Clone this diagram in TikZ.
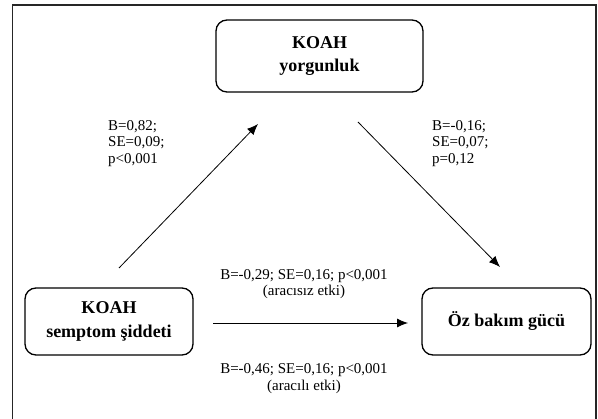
\documentclass[tikz,border=0pt]{standalone}
\usepackage{fontspec}
\setmainfont{Liberation Serif}
\usetikzlibrary{arrows.meta}
\begin{document}
\begin{tikzpicture}[x=1pt,y=-1pt,
  box/.style={draw=black,line width=1.3pt,rounded corners=11pt,inner sep=0pt,
    font=\fontsize{18}{23.5}\selectfont\bfseries,align=center},
  lbl/.style={inner sep=0pt,font=\fontsize{15}{16.5}\selectfont},
  arr/.style={line width=0.8pt,-{Latex[length=11pt,width=9pt]}}]
\useasboundingbox (0,0) rectangle (598,419);
\draw[line width=1.4pt,draw=black!85] (12.7,425) -- (12.7,5) -- (596,5) -- (596,425);
\node[box,minimum width=207pt,minimum height=72pt] (top) at (319.5,56) {KOAH\\yorgunluk};
\node[box,minimum width=168pt,minimum height=67pt] (left) at (109,321.5) {KOAH\\semptom şiddeti};
\node[box,minimum width=169pt,minimum height=67pt] (right) at (506.5,321.5) {Öz bakım gücü};
\coordinate (a1s) at (119,268);
\coordinate (a1e) at (258,124);
\coordinate (a2s) at (358,122);
\coordinate (a2e) at (500,267);
\coordinate (a3s) at (213,323);
\coordinate (a3e) at (408,323);
\draw[arr] (a1s) -- (a1e);
\draw[arr] (a2s) -- (a2e);
\draw[arr] (a3s) -- (a3e);
\node[lbl,align=left,anchor=north west] (l1) at (108,120) {B=0,82;\\SE=0,09;\\p<0,001};
\node[lbl,align=left,anchor=north west] (l2) at (432,120) {B=-0,16;\\SE=0,07;\\p=0,12};
\node[lbl,align=center] (l3) at (304,284) {B=-0,29; SE=0,16; p<0,001\\(aracısız etki)};
\node[lbl,align=center] (l4) at (304,378.5) {B=-0,46; SE=0,16; p<0,001\\(aracılı etki)};
\end{tikzpicture}
\end{document}
